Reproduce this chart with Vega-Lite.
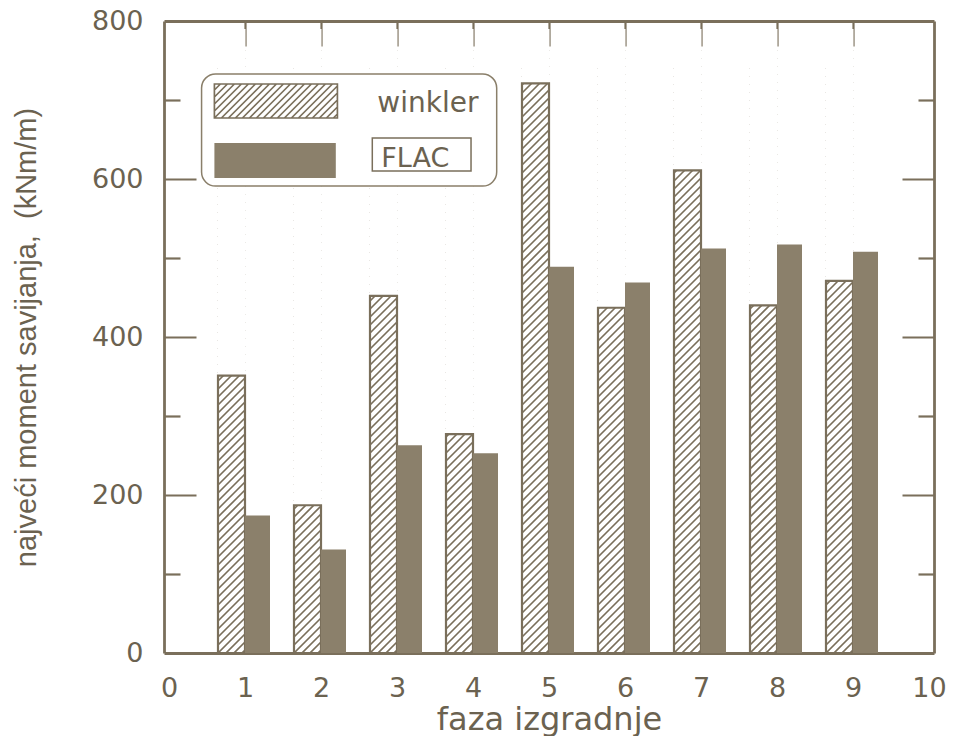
{
  "$schema": "https://vega.github.io/schema/vega-lite/v6.json",
  "width": 770,
  "height": 632,
  "autosize": "none",
  "padding": {"left": 164, "top": 21, "right": 23, "bottom": 83},
  "background": "#ffffff",
  "config": {
    "view": {"stroke": null},
    "axis": {"grid": false, "zindex": 1, "domainColor": "#7a6f5b", "domainWidth": 2.8, "tickColor": "#7a6f5b", "tickWidth": 2.2, "labelColor": "#6b6250", "titleColor": "#6b6250", "labelFont": "DejaVu Sans", "labelFontSize": 27, "titleFontWeight": "normal"}
  },
  "datasets": {
    "fase": [
      {"faza": 1, "model": "winkler", "value": 351},
      {"faza": 2, "model": "winkler", "value": 187},
      {"faza": 3, "model": "winkler", "value": 452},
      {"faza": 4, "model": "winkler", "value": 277},
      {"faza": 5, "model": "winkler", "value": 721},
      {"faza": 6, "model": "winkler", "value": 437},
      {"faza": 7, "model": "winkler", "value": 611},
      {"faza": 8, "model": "winkler", "value": 440},
      {"faza": 9, "model": "winkler", "value": 471},
      {"faza": 1, "model": "FLAC", "value": 174},
      {"faza": 2, "model": "FLAC", "value": 131},
      {"faza": 3, "model": "FLAC", "value": 263},
      {"faza": 4, "model": "FLAC", "value": 253},
      {"faza": 5, "model": "FLAC", "value": 489},
      {"faza": 6, "model": "FLAC", "value": 469},
      {"faza": 7, "model": "FLAC", "value": 512},
      {"faza": 8, "model": "FLAC", "value": 517},
      {"faza": 9, "model": "FLAC", "value": 508}
    ]
  },
  "data": {"name": "fase"},
  "resolve": {"axis": {"x": "independent", "y": "independent"}},
  "layer": [
    {
      "transform": [{"filter": "datum.model === 'winkler'"}],
      "mark": {"type": "point", "shape": "M-27,32L0,5M-27,24L0,-3M-27,16L0,-11M-27,8L0,-19M-27,0L0,-27M-27,-8L0,-35M-27,-16L0,-43M-27,-24L0,-51M-27,-32L0,-59M-27,-40L0,-67M-27,-48L0,-75M-27,-56L0,-83M-27,-64L0,-91M-27,-72L0,-99M-27,-80L0,-107M-27,-88L0,-115M-27,-96L0,-123M-27,-104L0,-131M-27,-112L0,-139M-27,-120L0,-147M-27,-128L0,-155M-27,-136L0,-163M-27,-144L0,-171M-27,-152L0,-179M-27,-160L0,-187M-27,-168L0,-195M-27,-176L0,-203M-27,-184L0,-211M-27,-192L0,-219M-27,-200L0,-227M-27,-208L0,-235M-27,-216L0,-243M-27,-224L0,-251M-27,-232L0,-259M-27,-240L0,-267M-27,-248L0,-275M-27,-256L0,-283M-27,-264L0,-291M-27,-272L0,-299M-27,-280L0,-307M-27,-288L0,-315M-27,-296L0,-323M-27,-304L0,-331M-27,-312L0,-339M-27,-320L0,-347M-27,-328L0,-355M-27,-336L0,-363M-27,-344L0,-371M-27,-352L0,-379M-27,-360L0,-387M-27,-368L0,-395M-27,-376L0,-403M-27,-384L0,-411M-27,-392L0,-419M-27,-400L0,-427M-27,-408L0,-435M-27,-416L0,-443M-27,-424L0,-451M-27,-432L0,-459M-27,-440L0,-467M-27,-448L0,-475M-27,-456L0,-483M-27,-464L0,-491M-27,-472L0,-499M-27,-480L0,-507M-27,-488L0,-515M-27,-496L0,-523M-27,-504L0,-531M-27,-512L0,-539M-27,-520L0,-547M-27,-528L0,-555M-27,-536L0,-563M-27,-544L0,-571M-27,-552L0,-579M-27,-560L0,-587M-27,-568L0,-595M-27,-576L0,-603M-27,-584L0,-611", "size": 4, "filled": false, "stroke": "#7a6f5b", "strokeWidth": 1.7, "opacity": 1, "clip": true},
      "encoding": {
        "x": {"field": "faza", "type": "quantitative", "scale": {"domain": [0, 10], "nice": false}, "axis": {"orient": "bottom", "values": [0, 1, 2, 3, 4, 5, 6, 7, 8, 9, 10], "ticks": false, "domain": true, "labelPadding": 22, "labelFlush": false, "title": "faza izgradnje", "titleFont": "DejaVu Sans", "titleFontSize": 32, "titlePadding": 3}},
        "y": {"datum": 0, "type": "quantitative", "scale": {"domain": [0, 800], "nice": false}, "axis": {"orient": "left", "values": [0, 200, 400, 600, 800], "ticks": false, "domain": true, "labelPadding": 21, "title": "najveći moment savijanja,\u00a0\u00a0(kNm/m)", "titleFont": "Liberation Sans", "titleFontSize": 29, "titlePadding": 50}}
      }
    },
    {
      "transform": [{"filter": "datum.model === 'winkler'"}],
      "mark": {"type": "bar", "fill": "#ffffff", "width": 28, "xOffset": -13.5, "clip": true},
      "encoding": {
        "x": {"field": "faza", "type": "quantitative", "axis": {"orient": "top", "values": [0, 10], "labels": false, "ticks": false, "domain": true, "title": null}},
        "y": {"field": "value", "type": "quantitative", "axis": {"orient": "left", "values": [200, 400, 600], "labels": false, "tickSize": -32, "domain": false, "title": null}},
        "y2": {"datum": 790}
      }
    },
    {
      "transform": [{"filter": "datum.model === 'winkler'"}],
      "mark": {"type": "bar", "fill": "#ffffff", "fillOpacity": 0, "stroke": "#7a6f5b", "strokeWidth": 2.2, "width": 27, "xOffset": -13.5},
      "encoding": {
        "x": {"field": "faza", "type": "quantitative", "axis": {"orient": "top", "values": [1, 2, 3, 4, 5, 6, 7, 8, 9], "labels": false, "ticks": true, "tickSize": 25, "offset": -25, "domain": false, "title": null}},
        "y": {"field": "value", "type": "quantitative", "axis": {"orient": "left", "values": [100, 300, 500, 700], "labels": false, "tickSize": -16, "domain": false, "title": null}}
      }
    },
    {
      "transform": [{"filter": "datum.model === 'FLAC'"}],
      "mark": {"type": "bar", "fill": "#8b806b", "width": 25, "xOffset": 12.5},
      "encoding": {
        "x": {"field": "faza", "type": "quantitative", "axis": null},
        "y": {"field": "value", "type": "quantitative", "axis": {"orient": "right", "values": [200, 400, 600], "labels": false, "tickSize": -32, "domain": true, "title": null}}
      }
    },
    {
      "data": {"values": [{}]},
      "mark": {"type": "rect", "fill": "#ffffff", "stroke": "#8a7f6a", "strokeWidth": 1.5, "cornerRadius": 14},
      "encoding": {
        "x": {"datum": 0.4286, "type": "quantitative", "axis": null},
        "x2": {"datum": 4.3117},
        "y": {"datum": 732.9, "type": "quantitative", "axis": {"orient": "right", "values": [100, 300, 500, 700], "labels": false, "tickSize": -16, "domain": false, "title": null}},
        "y2": {"datum": 591.1}
      }
    },
    {
      "data": {"values": [{}]},
      "mark": {"type": "point", "shape": "M0,0H123V-34H0ZM0,-28L6,-34M0,-21L13,-34M0,-14L20,-34M0,-7L27,-34M0,0L34,-34M7,0L41,-34M14,0L48,-34M21,0L55,-34M28,0L62,-34M35,0L69,-34M42,0L76,-34M49,0L83,-34M56,0L90,-34M63,0L97,-34M70,0L104,-34M77,0L111,-34M84,0L118,-34M91,0L123,-32M98,0L123,-25M105,0L123,-18M112,0L123,-11M119,0L123,-4", "size": 4, "filled": false, "stroke": "#7a6f5b", "strokeWidth": 1.7, "opacity": 1},
      "encoding": {
        "x": {"datum": 0.5974, "type": "quantitative", "axis": null},
        "y": {"datum": 677.2, "type": "quantitative", "axis": null}
      }
    },
    {
      "data": {"values": [{}]},
      "mark": {"type": "rect", "fill": "#8b806b"},
      "encoding": {
        "x": {"datum": 0.5974, "type": "quantitative", "axis": null},
        "x2": {"datum": 2.1948},
        "y": {"datum": 645.6, "type": "quantitative", "axis": null},
        "y2": {"datum": 601.3}
      }
    },
    {
      "data": {"values": [{}]},
      "mark": {"type": "rect", "fill": "#ffffff", "fillOpacity": 0, "stroke": "#7a6f5b", "strokeWidth": 1.5},
      "encoding": {
        "x": {"datum": 2.675, "type": "quantitative", "axis": null},
        "x2": {"datum": 3.974},
        "y": {"datum": 651.9, "type": "quantitative", "axis": null},
        "y2": {"datum": 610.1}
      }
    },
    {
      "data": {"values": [{}]},
      "mark": {"type": "text", "text": "winkler", "align": "left", "baseline": "alphabetic", "font": "DejaVu Sans", "fontSize": 28, "fill": "#6b6250"},
      "encoding": {
        "x": {"datum": 2.74, "type": "quantitative", "axis": null},
        "y": {"datum": 684.8, "type": "quantitative", "axis": null}
      }
    },
    {
      "data": {"values": [{}]},
      "mark": {"type": "text", "text": "FLAC", "align": "left", "baseline": "alphabetic", "font": "DejaVu Sans", "fontSize": 27, "fill": "#6b6250"},
      "encoding": {
        "x": {"datum": 2.792, "type": "quantitative", "axis": null},
        "y": {"datum": 615.2, "type": "quantitative", "axis": null}
      }
    }
  ]
}
